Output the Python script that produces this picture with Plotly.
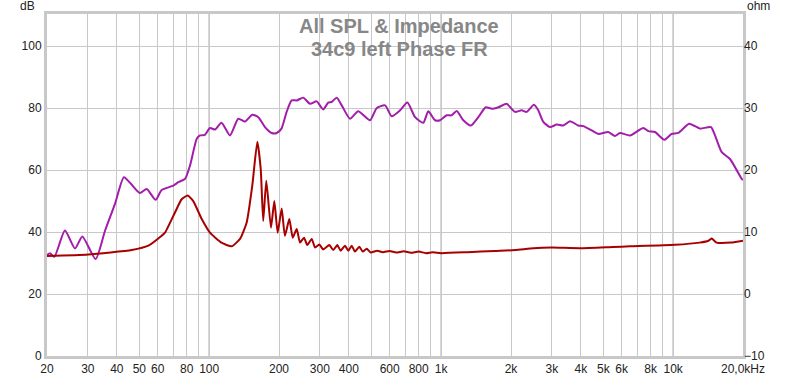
import plotly.graph_objects as go

# SPL curve (dB, left axis)
spl_freq = [20, 20.6, 21.5, 23.9, 26.4, 28.4, 32.4, 35.6, 39.3, 42.9, 46.0, 50.3, 53.8, 58.8,
            62.4, 70.1, 73.6, 78.7, 82.7, 88.4, 91.3, 95.9, 100.8, 106, 113, 123, 133.5,
            142.7, 153.4, 162.9, 174, 186, 195.5, 205, 215.8, 226.8, 238.4, 254.5, 272,
            290.8, 310, 326, 337, 354.6, 372.8, 404.6, 439, 493.6, 527, 573, 612, 665,
            715, 772, 838, 880, 941, 989, 1056, 1110, 1167, 1246, 1345, 1446, 1556, 1652,
            1764, 1917, 2000, 2080, 2224, 2337, 2512, 2622, 2756, 2946, 3148, 3362, 3592,
            3900, 4098, 4454, 4756, 5254, 5614, 5898, 6516, 7436, 7814, 8352, 9160, 9856,
            10522, 11704, 12422, 13054, 14560, 15150, 16192, 17580, 19744, 20000]
spl_db = [32.6, 33.2, 32.0, 40.5, 34.7, 38.6, 31.3, 40.5, 49.2, 57.7, 55.6, 52.6, 53.9, 50.4,
          53.6, 55.0, 56.1, 57.2, 61.5, 70.1, 71.2, 71.4, 73.6, 73.1, 75.3, 71.2, 76.6,
          75.7, 77.9, 77.1, 73.9, 72.0, 72.0, 73.4, 78.8, 82.5, 82.5, 83.4, 81.4,
          82.2, 79.6, 81.8, 82.0, 83.4, 80.9, 76.6, 79.0, 76.1, 80.0, 80.9, 77.4, 79.3,
          81.8, 77.1, 75.3, 79.0, 76.1, 76.1, 77.7, 77.7, 79.1, 76.1, 74.4, 77.1, 80.3, 79.8,
          80.3, 81.4, 80.0, 78.8, 79.3, 78.8, 81.1, 79.3, 75.6, 73.9, 74.7, 74.4, 75.8,
          74.4, 74.2, 72.8, 71.7, 72.3, 71.0, 72.0, 71.2, 73.6, 72.6, 72.3, 69.8, 71.7,
          72.0, 75.0, 74.2, 73.4, 73.9, 71.2, 65.8, 63.6, 57.2, 56.8]

# Impedance curve (ohm, right axis)
imp_freq = [20, 30.1, 46.4, 54.7, 62.4, 64.5, 71.3, 76.1, 80.8, 85.4, 92.9, 100.8, 113, 125,
            135.8, 145, 153.4, 161.3, 166.8, 171, 176.3, 184.7, 190.9, 197.4, 205.4, 212,
            221.6, 229.2, 238.4, 246.4, 256.4, 264.8, 276.7, 286, 298.4, 310, 329.6, 342.8,
            356.7, 368.9, 385, 397.8, 411.6, 425.2, 443.8, 459, 477.6, 497, 530, 560, 600,
            640, 690, 740, 800, 860, 920, 1000, 1300, 1700, 2080, 2500, 3000, 3963, 5500,
            6516, 10180, 13000, 14200, 14656, 15400, 17800, 20000]
imp_ohm = [6.15, 6.4, 7.1, 7.8, 9.4, 9.9, 13.2, 15.3, 15.9, 15.0, 12.1, 9.9, 8.3, 7.7,
           8.9, 11.5, 17.5, 24.6, 20.2, 11.8, 18.3, 10.7, 15.0, 9.9, 13.8, 9.4,
           12.1, 9.1, 10.5, 8.3, 9.1, 7.9, 8.9, 7.5, 8.0, 7.2, 7.9, 7.1,
           7.9, 7.0, 7.8, 7.0, 7.8, 6.85, 7.65, 6.85, 7.3, 6.7, 7.0, 6.75, 6.95,
           6.7, 6.9, 6.65, 6.85, 6.6, 6.75, 6.6, 6.75, 6.95, 7.1, 7.4, 7.5, 7.4, 7.6,
           7.7, 7.95, 8.3, 8.6, 8.95, 8.3, 8.3, 8.6]

x_tickvals = [20, 30, 40, 50, 60, 80, 100, 200, 300, 400, 600, 800, 1000, 2000, 3000,
              4000, 5000, 6000, 8000, 10000, 20000]
x_ticktext = ["20", "30", "40", "50", "60", "80", "100", "200", "300", "400", "600", "800",
              "1k", "2k", "3k", "4k", "5k", "6k", "8k", "10k", "20,0kHz"]
x_gridvals = [20, 30, 40, 50, 60, 70, 80, 90, 100, 200, 300, 400, 500, 600, 700, 800, 900,
              1000, 2000, 3000, 4000, 5000, 6000, 7000, 8000, 9000, 10000, 20000]
major_grid = [100, 1000, 10000]
db_ticks = [0, 20, 40, 60, 80, 100]
ohm_ticks = [-10, 0, 10, 20, 30, 40]

font_main = "Liberation Sans, Arial, sans-serif"

fig = go.Figure()
fig.add_trace(go.Scatter(x=imp_freq, y=imp_ohm, mode="lines", yaxis="y2",
                         line=dict(color="#a80000", width=2, shape="spline", smoothing=0.5),
                         showlegend=False, hoverinfo="skip"))
fig.add_trace(go.Scatter(x=spl_freq, y=spl_db, mode="lines",
                         line=dict(color="#a21daa", width=2, shape="spline", smoothing=0.6),
                         showlegend=False, hoverinfo="skip"))

for g in major_grid:
    fig.add_shape(type="line", xref="x", yref="paper", x0=g, x1=g, y0=0, y1=1,
                  line=dict(color="#8a8a8a", width=1), layer="below")

fig.update_layout(
    width=800, height=377,
    margin=dict(l=47, r=57, t=14, b=21),
    paper_bgcolor="white", plot_bgcolor="white",
    font=dict(family=font_main, size=12, color="#222222"),
    xaxis=dict(type="log", range=[1.30103, 4.30103],
               tickvals=x_gridvals,
               ticktext=[x_ticktext[x_tickvals.index(v)] if v in x_tickvals else "" for v in x_gridvals],
               showgrid=True, gridcolor="#c8c8c8", gridwidth=1,
               showline=True, linecolor="#c8c8c8", linewidth=3, mirror=True,
               ticks="", ticklen=0, zeroline=False, tickangle=0, automargin=False),
    yaxis=dict(range=[0, 110.4], tickvals=db_ticks, showgrid=True, gridcolor="#c8c8c8",
               gridwidth=1, showline=True, linecolor="#c8c8c8", linewidth=3, mirror=True,
               ticks="", zeroline=False, automargin=False),
    yaxis2=dict(range=[-10, 45.2], tickvals=ohm_ticks, overlaying="y", side="right",
                showgrid=False, zeroline=False, ticks="", showline=False, automargin=False),
    annotations=[
        dict(text="<b>All SPL & Impedance</b>", xref="paper", yref="paper", x=0.506, y=0.965,
             xanchor="center", yanchor="middle", showarrow=False,
             font=dict(size=20, color="#878787", family=font_main)),
        dict(text="<b>34c9 left Phase FR</b>", xref="paper", yref="paper", x=0.506, y=0.898,
             xanchor="center", yanchor="middle", showarrow=False,
             font=dict(size=20, color="#878787", family=font_main)),
        dict(text="dB", xref="paper", yref="paper", x=-0.014, y=1.0, xanchor="right",
             yanchor="bottom", showarrow=False, yshift=-1,
             font=dict(size=12, color="#222222", family=font_main)),
        dict(text="ohm", xref="paper", yref="paper", x=1.003, y=1.0, xanchor="left",
             yanchor="bottom", showarrow=False, yshift=-1,
             font=dict(size=12, color="#222222", family=font_main)),
    ],
)

fig.write_html("out.html", config={"displayModeBar": False},
               post_script="document.body.style.margin='0';document.body.style.padding='0';")
